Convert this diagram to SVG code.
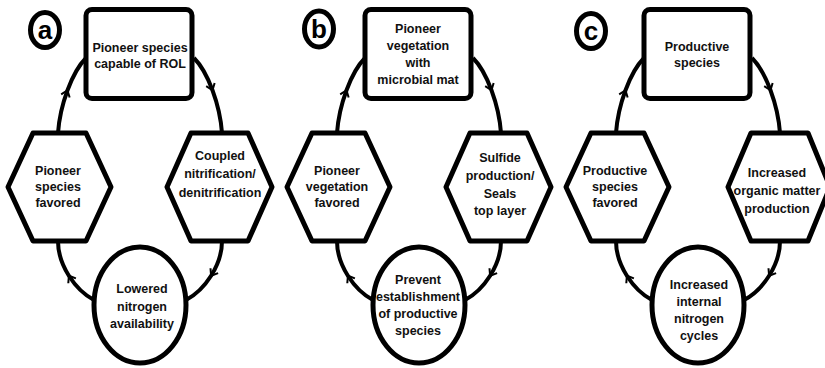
<svg xmlns="http://www.w3.org/2000/svg" width="825" height="368" viewBox="0 0 825 368">
<style>
.n{fill:#fff;stroke:#000;stroke-width:5;stroke-linejoin:round}
.lab{fill:#fff;stroke:#000;stroke-width:5}
.c{fill:none;stroke:#000;stroke-width:4;marker-mid:url(#arr)}
text{font-family:"Liberation Sans",Arial,Helvetica,sans-serif;font-weight:bold;font-size:12.5px;text-anchor:middle;fill:#111}
.big{font-size:26px;fill:#000}
</style>
<defs>
<marker id="arr" viewBox="-8 -6 10 12" markerWidth="10" markerHeight="12" refX="0" refY="0" orient="auto" markerUnits="userSpaceOnUse">
<path d="M-6,-4.5 L0,0 L-6,4.5" fill="none" stroke="#000" stroke-width="2"/>
</marker>
</defs>
<rect width="825" height="368" fill="#fff"/>

<g id="connectors">
<g transform="translate(0,0)">
<path class="c" d="M194,58 C201,65 207.5,76.75 212.5,90.25 C217.5,103.75 221,119 222,133"/>
<path class="c" d="M222,241 C222,253 217.75,265.25 211.1,275.75 C204.5,286.25 195.5,295 186,300"/>
<path class="c" d="M94,300 C84.5,295 75.5,286.25 68.9,275.75 C62.25,265.25 58,253 58,241"/>
<path class="c" d="M58,133 C59,119 62.5,103.75 67.5,90.25 C72.5,76.75 79,65 86,58"/>
</g>
<g transform="translate(279,0)">
<path class="c" d="M194,58 C201,65 207.5,76.75 212.5,90.25 C217.5,103.75 221,119 222,133"/>
<path class="c" d="M222,241 C222,253 217.75,265.25 211.1,275.75 C204.5,286.25 195.5,295 186,300"/>
<path class="c" d="M94,300 C84.5,295 75.5,286.25 68.9,275.75 C62.25,265.25 58,253 58,241"/>
<path class="c" d="M58,133 C59,119 62.5,103.75 67.5,90.25 C72.5,76.75 79,65 86,58"/>
</g>
<g transform="translate(558,0)">
<path class="c" d="M194,58 C201,65 207.5,76.75 212.5,90.25 C217.5,103.75 221,119 222,133"/>
<path class="c" d="M222,241 C222,253 217.75,265.25 211.1,275.75 C204.5,286.25 195.5,295 186,300"/>
<path class="c" d="M94,300 C84.5,295 75.5,286.25 68.9,275.75 C62.25,265.25 58,253 58,241"/>
<path class="c" d="M58,133 C59,119 62.5,103.75 67.5,90.25 C72.5,76.75 79,65 86,58"/>
</g>
</g>

<!-- Panel a -->
<g id="label-a"><ellipse class="lab" cx="45" cy="30" rx="14.5" ry="17.5"/><text class="big" x="45" y="39">a</text></g>
<g id="a-top"><rect class="n" x="86" y="9.5" width="106" height="89" rx="6"/><text x="140" y="52">Pioneer species</text><text x="140" y="68">capable of ROL</text></g>
<g id="a-right"><polygon class="n" points="167,187 191,133 248,133 272,187 248,241 191,241"/><text x="220" y="160">Coupled</text><text x="220" y="178">nitrification/</text><text x="220" y="197">denitrification</text></g>
<g id="a-bottom"><ellipse class="n" cx="140" cy="305" rx="46" ry="58"/><text x="142" y="293">Lowered</text><text x="142" y="311">nitrogen</text><text x="142" y="328">availability</text></g>
<g id="a-left"><polygon class="n" points="8,187 33,133 86,133 111,187 86,241 33,241"/><text x="58" y="175">Pioneer</text><text x="58" y="191">species</text><text x="58" y="207">favored</text></g>

<!-- Panel b -->
<g id="label-b"><ellipse class="lab" cx="319" cy="29" rx="14.5" ry="18"/><text class="big" x="319" y="38">b</text></g>
<g id="b-top" transform="translate(279,0)"><rect class="n" x="86" y="9.5" width="106" height="89" rx="6"/><text x="139" y="33">Pioneer</text><text x="139" y="50">vegetation</text><text x="139" y="67">with</text><text x="139" y="84">microbial mat</text></g>
<g id="b-right" transform="translate(279,0)"><polygon class="n" points="167,187 191,133 248,133 272,187 248,241 191,241"/><text x="221" y="162">Sulfide</text><text x="221" y="180">production/</text><text x="221" y="198">Seals</text><text x="221" y="215">top layer</text></g>
<g id="b-bottom" transform="translate(279,0)"><ellipse class="n" cx="140" cy="305" rx="46" ry="58"/><text x="139" y="284">Prevent</text><text x="139" y="301">establishment</text><text x="139" y="318">of productive</text><text x="139" y="335">species</text></g>
<g id="b-left" transform="translate(279,0)"><polygon class="n" points="8,187 33,133 86,133 111,187 86,241 33,241"/><text x="58" y="175">Pioneer</text><text x="58" y="191">vegetation</text><text x="58" y="207">favored</text></g>

<!-- Panel c -->
<g id="label-c"><ellipse class="lab" cx="591" cy="31" rx="14.5" ry="17.5"/><text class="big" x="591" y="40">c</text></g>
<g id="c-top" transform="translate(558,0)"><rect class="n" x="86" y="9.5" width="106" height="89" rx="6"/><text x="139" y="51">Productive</text><text x="139" y="67">species</text></g>
<g id="c-right" transform="translate(558,0)"><polygon class="n" points="170,187 193,133 250,133 272,187 250,241 193,241"/><text x="219" y="177">Increased</text><text x="219" y="195">organic matter</text><text x="219" y="213">production</text></g>
<g id="c-bottom" transform="translate(558,0)"><ellipse class="n" cx="140" cy="305" rx="46" ry="58"/><text x="141" y="289">Increased</text><text x="141" y="306">internal</text><text x="141" y="323">nitrogen</text><text x="141" y="340">cycles</text></g>
<g id="c-left" transform="translate(558,0)"><polygon class="n" points="8,187 33,133 86,133 111,187 86,241 33,241"/><text x="57" y="175">Productive</text><text x="57" y="191">species</text><text x="57" y="207">favored</text></g>
</svg>
